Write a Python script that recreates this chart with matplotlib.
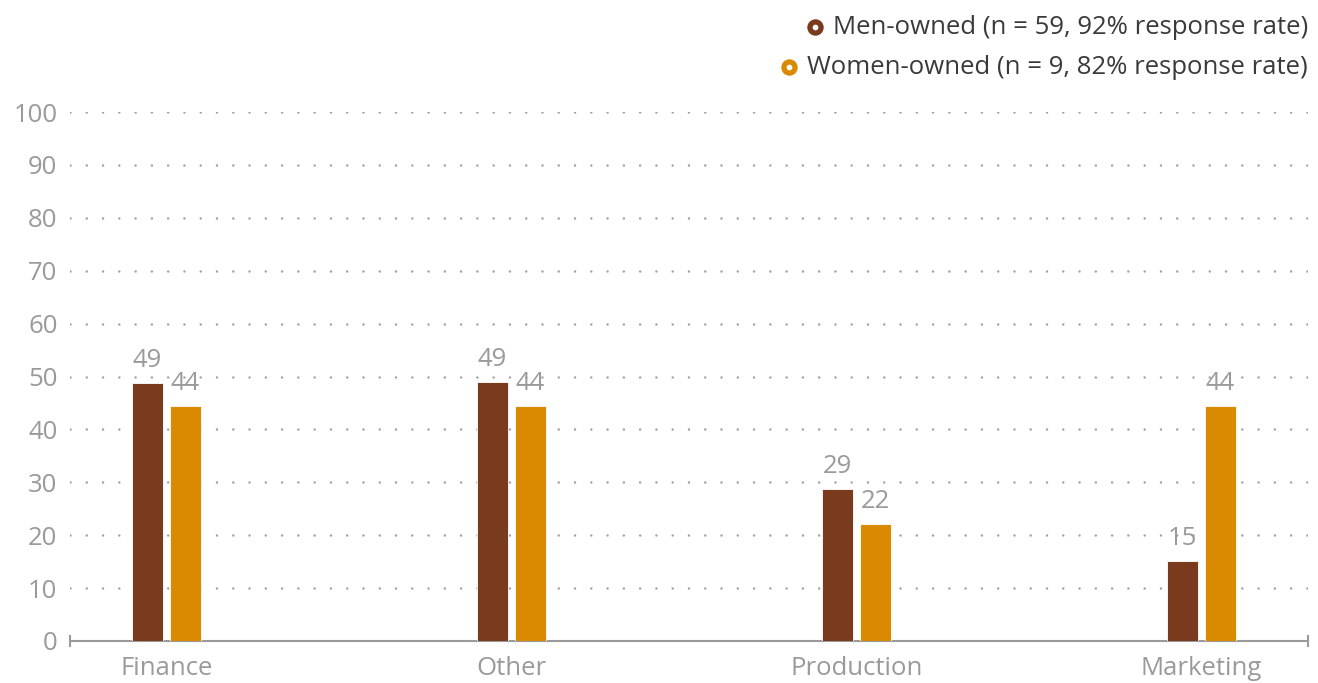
import matplotlib
matplotlib.use("Agg")
import matplotlib.pyplot as plt
from matplotlib.lines import Line2D
import numpy as np

plt.rcParams['font.family'] = ['Open Sans', 'DejaVu Sans']

categories = ["Finance", "Other", "Production", "Marketing"]
men = [48.8, 49.0, 28.7, 15.1]
women = [44.4, 44.4, 22.2, 44.4]
men_labels = ["49", "49", "29", "15"]
women_labels = ["44", "44", "22", "44"]
legend_labels = ["Men-owned (n = 59, 92% response rate)",
                 "Women-owned (n = 9, 82% response rate)"]

men_color = "#7a3a1e"
women_color = "#d98a00"
gray = "#9a9a9a"

fig = plt.figure(figsize=(13.18, 6.83), dpi=100)
ax = fig.add_axes([70 / 1318, 42 / 683, 1238 / 1318, 529 / 683])

x = np.arange(len(categories))
w = 0.09
off = 0.055
ax.bar(x - off, men, width=w, color=men_color, edgecolor="white", linewidth=0.6, zorder=3)
ax.bar(x + off, women, width=w, color=women_color, edgecolor="white", linewidth=0.6, zorder=3)

for i in range(len(categories)):
    ax.annotate(men_labels[i], (x[i] - off, men[i]), xytext=(0, 7), textcoords="offset points",
                ha="center", va="bottom", fontsize=18.5, color=gray)
    ax.annotate(women_labels[i], (x[i] + off, women[i]), xytext=(0, 7), textcoords="offset points",
                ha="center", va="bottom", fontsize=18.5, color=gray)

ax.set_xlim(-0.28, 3.31)
ax.set_ylim(0, 100)
ax.set_yticks(range(0, 101, 10))
ax.set_xticks(x)
ax.set_xticklabels(categories)
ax.tick_params(axis="both", length=0, labelsize=18.5, labelcolor=gray)
ax.tick_params(axis="x", pad=11)
ax.tick_params(axis="y", pad=9)

ax.grid(axis="y", color="#a0a0a0", linewidth=1.8, linestyle=(0, (0.01, 6.5)),
        dash_capstyle="round", zorder=0)
ax.grid(axis="x", visible=False)
for s in ["top", "right", "left"]:
    ax.spines[s].set_visible(False)
ax.spines["bottom"].set_color(gray)
ax.spines["bottom"].set_linewidth(1.5)
ax.plot([0, 1], [0, 0], transform=ax.transAxes, linestyle="none", marker="|",
        markersize=9, markeredgewidth=1.5, color=gray, clip_on=False, zorder=4)

# legend drawn by hand, right aligned like the original
fig.canvas.draw()
r = fig.canvas.get_renderer()
colors = [men_color, women_color]
ys = [1 - 27 / 683, 1 - 67 / 683]
for lab, c, yy in zip(legend_labels, colors, ys):
    t = fig.text(1308 / 1318, yy, lab, ha="right", va="center", fontsize=18.5, color="#3a3a3a")
    bb = t.get_window_extent(renderer=r)
    mx = (bb.x0 - 18) / 1318
    fig.add_artist(Line2D([mx], [yy], marker="o", markersize=8, markerfacecolor="white",
                          markeredgecolor=c, markeredgewidth=3.8, transform=fig.transFigure))

fig.savefig("out.png", dpi=100)
